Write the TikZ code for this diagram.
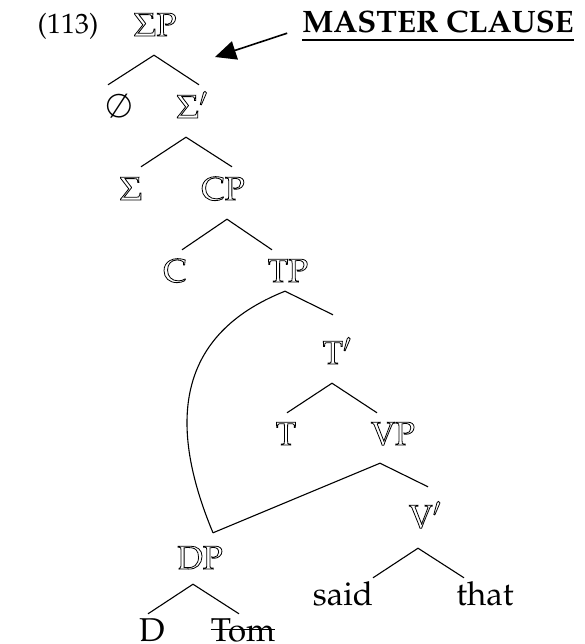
\documentclass[tikz,border=0pt]{standalone}
\usepackage[T1]{fontenc}
\usepackage{mathpazo}
\usetikzlibrary{arrows.meta}
\newcommand{\hollow}[1]{\special{pdf:literal direct 1 Tr 0.8 w}#1\special{pdf:literal direct 0 Tr}}

\begin{document}
\begin{tikzpicture}[x=1pt, y=-1pt,
  cat/.style={inner sep=0pt, text height=23pt, text depth=0pt, anchor=base, font=\fontsize{33}{36}\selectfont},
  exnum/.style={inner sep=0pt, anchor=base, font=\fontsize{28}{32}\selectfont},
  tag/.style={inner sep=0pt, text height=20pt, text depth=0pt, anchor=base, font=\fontsize{31}{34}\selectfont\bfseries},
  branch/.style={line width=1.1pt},
  pointer/.style={-{Triangle[length=21pt, width=19pt]}, line width=1.6pt}
]
\useasboundingbox (0,0) rectangle (584,644);

% Example number and label
\node[exnum] (num) at (68,34) {(113)};
\node[tag] (master) at (438,33) {MASTER CLAUSE};
\draw[line width=2.4pt] ([yshift=-7pt]master.south west) -- ([yshift=-7pt]master.south east);
\coordinate (tip) at (215,57);
\draw[pointer] ([xshift=-15pt]master.south west) -- (tip);

% Tree nodes
\node[cat] (SP) at (155,36) {\hollow{$\Sigma$P}};
\node[cat] (nul) at (119,118) {$\emptyset$};
\node[cat] (S1) at (192,118) {\hollow{$\Sigma'$}};
\node[cat] (S0) at (131,200) {\hollow{$\Sigma$}};
\node[cat] (CP) at (223,200) {\hollow{CP}};
\node[cat] (C) at (175,282) {\hollow{C}};
\node[cat] (TP) at (288,282) {\hollow{TP}};
\node[cat] (T1) at (337,364) {\hollow{T$'$}};
\node[cat] (T) at (286,445) {\hollow{T}};
\node[cat] (VP) at (393,445) {\hollow{VP}};
\node[cat] (V1) at (425,528) {\hollow{V$'$}};
\node[cat] (said) at (343,605) {said};
\node[cat] (that) at (485,605) {that};
\node[cat] (DP) at (200,569) {\hollow{DP}};
\node[cat] (D) at (152,641) {D};
\node[cat] (Tom) at (243,641) {Tom};
\draw[line width=1.2pt] ([yshift=12pt]Tom.south west) -- ([yshift=12pt]Tom.south east);

% Branches
\draw[branch] ([xshift=-11pt,yshift=10pt]nul.north) -- ([xshift=-1pt,yshift=-19pt]SP.south) -- ([xshift=7pt,yshift=10pt]S1.north);
\draw[branch] ([xshift=10pt,yshift=10pt]S0.north) -- ([xshift=-6pt,yshift=-19pt]S1.south) -- ([xshift=9pt,yshift=10pt]CP.north);
\draw[branch] ([xshift=7pt,yshift=9pt]C.north) -- ([xshift=4pt,yshift=-19pt]CP.south) -- ([xshift=-16pt,yshift=9pt]TP.north);
\draw[branch] ([xshift=-3pt,yshift=-9pt]TP.south) -- ([xshift=-4pt,yshift=26pt]T1.north);
\draw[branch] ([xshift=1pt,yshift=9pt]T.north) -- ([xshift=-5pt,yshift=-19pt]T1.south) -- ([xshift=-16pt,yshift=9pt]VP.north);
\draw[branch] ([xshift=13pt,yshift=13pt]DP.north) -- ([xshift=-13pt,yshift=-18pt]VP.south) -- ([xshift=3pt,yshift=18pt]V1.north);
\draw[branch] ([xshift=30pt,yshift=4pt]said.north) -- ([xshift=-7pt,yshift=-20pt]V1.south) -- ([xshift=-21pt,yshift=4pt]that.north);
\draw[branch] ([xshift=-4pt,yshift=4pt]D.north) -- ([xshift=-7pt,yshift=-15pt]DP.south) -- ([xshift=-4pt,yshift=4pt]Tom.north);

% Movement curve
\draw[branch] ([xshift=-3pt,yshift=-9pt]TP.south) .. controls (175,335) and (168,425) .. ([xshift=13pt,yshift=13pt]DP.north);

\end{tikzpicture}
\end{document}
